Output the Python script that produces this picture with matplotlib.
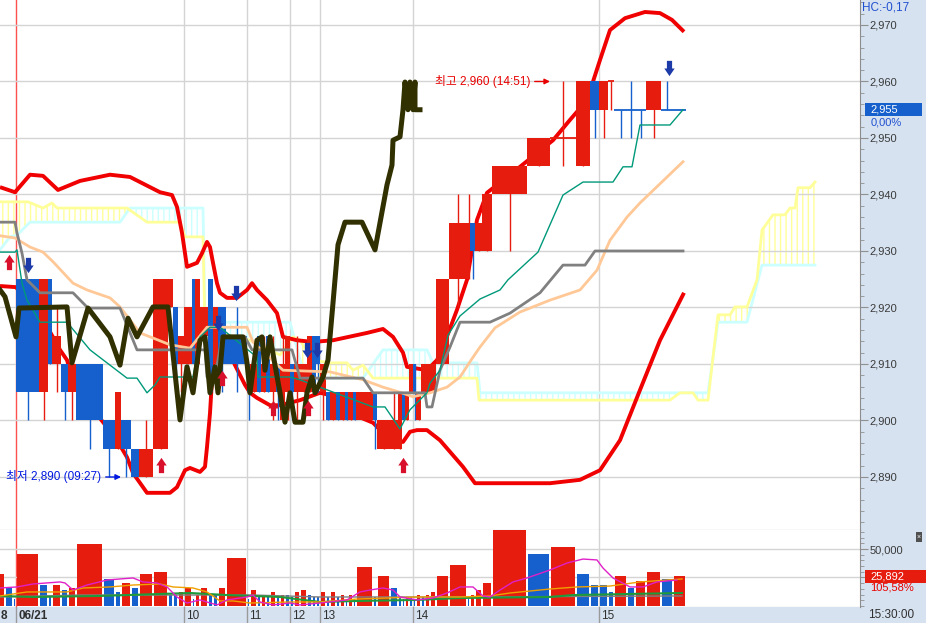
import numpy as np
import matplotlib
matplotlib.use('Agg')
import matplotlib.pyplot as plt
import matplotlib.colors as mcolors
import matplotlib.transforms as mtransforms
from matplotlib.path import Path
from matplotlib.patches import Rectangle
from matplotlib.ticker import MultipleLocator, FuncFormatter

plt.rcParams['font.family'] = ['Liberation Sans', 'Noto Sans CJK KR', 'DejaVu Sans']

# --- candle data (candlevolume: width = traded volume, thousand shares) ---
# first three candles belong to the previous session (06/18), prices off screen
volume = [28, 16, 6,
          46, 18, 8, 18, 14, 16, 54, 24, 12, 20, 16, 28, 30,
          10, 10, 12, 16, 6, 10, 16, 10, 10, 16,
          42,
          6, 14, 8, 10, 8, 12, 8, 10, 10, 8, 12, 14, 10, 8, 8,
          12, 8, 12, 8, 10, 6, 10, 6, 34, 8, 26, 16, 8, 6, 8, 8, 6, 10, 8, 10, 12,
          26, 36, 6, 10, 14, 20,
          70, 46, 52, 28, 18, 18, 12, 26, 16, 22, 30, 24, 25.892]
nan = np.nan
opens = [nan, nan, nan,
         2925, 2905, 2925, 2910, 2910, 2905, 2910, 2900, 2895, 2900, 2895, 2890, 2895,
         2920, 2920, 2910, 2910, 2925, 2910, 2915, 2925, 2910, 2920,
         2915,
         2910, 2905, 2915, 2905, 2915, 2905, 2910, 2900, 2905, 2910, 2905, 2905, 2905, 2915, 2915,
         2905, 2905, 2900, 2905, 2900, 2905, 2900, 2905, 2900, 2905, 2895, 2895, 2895, 2905, 2900,
         2905, 2910, 2900, 2905, 2905, 2905,
         2910, 2925, 2925, 2935, 2930, 2930,
         2940, 2945, 2950, 2945, 2960, 2955, 2960, 2955, 2955, 2955, 2955, 2955, 2955]
highs = [nan, nan, nan,
         2925, 2925, 2925, 2920, 2910, 2910, 2910, 2900, 2905, 2900, 2895, 2900, 2925,
         2925, 2920, 2915, 2920, 2925, 2925, 2920, 2925, 2920, 2920,
         2920,
         2910, 2910, 2915, 2915, 2915, 2915, 2910, 2915, 2915, 2910, 2915, 2910, 2915, 2915, 2915,
         2910, 2905, 2905, 2905, 2905, 2905, 2905, 2905, 2905, 2905, 2900, 2905, 2905, 2905, 2905,
         2910, 2910, 2905, 2910, 2910, 2910,
         2925, 2940, 2940, 2935, 2935, 2940,
         2945, 2950, 2960, 2960, 2960, 2960, 2960, 2955, 2960, 2955, 2960, 2960, 2955]
lows = [nan, nan, nan,
        2900, 2900, 2910, 2905, 2900, 2900, 2895, 2890, 2895, 2890, 2890, 2890, 2895,
        2920, 2905, 2905, 2910, 2910, 2910, 2915, 2905, 2910, 2905,
        2905,
        2900, 2905, 2905, 2905, 2905, 2900, 2900, 2900, 2900, 2900, 2900, 2905, 2905, 2905, 2905,
        2900, 2900, 2900, 2900, 2900, 2900, 2900, 2900, 2900, 2895, 2895, 2895, 2895, 2900, 2900,
        2905, 2900, 2900, 2905, 2905, 2905,
        2910, 2920, 2925, 2925, 2930, 2930,
        2930, 2945, 2945, 2945, 2950, 2950, 2955, 2950, 2950, 2950, 2950, 2955, 2955]
closes = [nan, nan, nan,
          2905, 2925, 2910, 2915, 2905, 2910, 2900, 2895, 2905, 2895, 2890, 2895, 2925,
          2925, 2910, 2915, 2920, 2910, 2925, 2920, 2905, 2920, 2910,
          2910,
          2905, 2910, 2905, 2910, 2905, 2910, 2905, 2910, 2915, 2905, 2910, 2910, 2915, 2905, 2910,
          2910, 2900, 2905, 2900, 2905, 2900, 2905, 2900, 2905, 2900, 2900, 2900, 2905, 2900, 2905,
          2910, 2905, 2905, 2910, 2910, 2910,
          2925, 2935, 2935, 2930, 2935, 2940,
          2945, 2950, 2950, 2960, 2955, 2960, 2960, 2955, 2955, 2955, 2960, 2955, 2955]
# candle colour: u = red (up), d = blue (down)
rising = ('udd' + 'dudududdudduu' + 'uduuduudud' + 'd' + 'dudududuuduuudd'
          + 'udududududuuuduuduuuu' + 'uuuduu' + 'uuuuduudddudd')

hour_labels = ['06/21', '10', '11', '12', '13', '14', '15']
hour_start = [3, 19, 27, 36, 42, 58, 74]
high_idx, low_idx = 71, 12

# --- indicator lines (x = cumulative volume from the 06/21 open) ---
bb_up_x = [-32, -2, 28, 54, 84, 128, 188, 228, 288, 312, 322, 332, 342, 362, 372, 382, 388, 394, 402,
           408, 422, 442, 462, 472, 482, 502, 522, 534, 562, 594, 634, 702, 734, 754, 774, 782, 822,
           842, 854, 882, 902, 922, 942, 1008, 1074, 1108, 1142, 1168, 1188, 1218, 1258, 1288, 1312, 1336]
bb_up = [2941.3, 2940.4, 2943.5, 2943.3, 2940.8, 2942.4, 2943.5, 2943.1, 2940.4, 2939.9, 2937.8, 2933.2,
         2927.2, 2927.9, 2929.6, 2931.6, 2930.7, 2927.9, 2924.3, 2922.6, 2921.7, 2921.7, 2923.1, 2924.3,
         2923.1, 2921.3, 2919.0, 2914.8, 2914.2, 2913.9, 2914.2, 2915.5, 2916.2, 2914.8, 2912.0, 2909.5,
         2908.9, 2910.7, 2913.0, 2919.6, 2924.9, 2935.5, 2940.3, 2944.9, 2949.6, 2953.2, 2956.7, 2963.8,
         2969.1, 2971.2, 2972.3, 2972.1, 2970.9, 2968.8]
bb_low_x = [-32, 0, 68, 88, 102, 118, 168, 202, 222, 234, 262, 308, 322, 338, 348, 368, 378, 382, 388,
            392, 398, 412, 438, 458, 468, 482, 508, 528, 568, 608, 628, 668, 714, 742, 762, 774, 788,
            802, 822, 848, 894, 918, 968, 1068, 1128, 1168, 1208, 1248, 1288, 1336]
bb_low = [2923.8, 2923.6, 2915.7, 2912.5, 2910.7, 2905.9, 2900.4, 2896.5, 2893.5, 2890.7, 2887.2, 2887.2,
          2888.2, 2891.2, 2891.6, 2890.9, 2891.8, 2895.3, 2901.3, 2907.2, 2914.2, 2915.1, 2909.8, 2906.3,
          2904.9, 2904.0, 2902.7, 2902.7, 2903.6, 2904.9, 2904.5, 2901.3, 2899.6, 2897.1, 2896.5, 2896.2,
          2898.0, 2898.3, 2898.3, 2896.5, 2891.8, 2888.9, 2888.9, 2888.9, 2889.5, 2891.2, 2896.5, 2905.4,
          2914.2, 2922.6]
lag_x = [-32, -22, 0, 6, 102, 112, 144, 188, 208, 224, 242, 274, 304, 328, 342, 354, 368, 378, 388, 398,
         404, 414, 454, 462, 468, 482, 492, 498, 508, 518, 528, 538, 548, 558, 574, 582, 592, 598, 614,
         624, 634, 644, 658, 692, 718, 742, 752, 754, 768, 774, 778, 784, 788, 794, 798, 798, 808]
lag = [2923.1, 2921.9, 2914.8, 2919.9, 2920.1, 2910.2, 2919.9, 2914.8, 2909.8, 2918.1, 2914.8, 2920.1,
       2920.1, 2900.1, 2909.5, 2904.9, 2914.2, 2914.8, 2904.9, 2909.5, 2904.9, 2914.8, 2914.8, 2910.2,
       2904.9, 2914.2, 2914.8, 2908.9, 2914.8, 2909.8, 2904.9, 2899.7, 2904.9, 2899.7, 2899.7, 2904.9,
       2907.7, 2904.9, 2907.7, 2910.7, 2920.8, 2931.1, 2935.1, 2935.1, 2930.2, 2941.7, 2945.2, 2949.6,
       2950.2, 2955.0, 2959.9, 2955.0, 2959.9, 2955.0, 2959.9, 2955.0, 2955.0]
base_x = [-32, -2, 2, 12, 22, 48, 114, 144, 208, 242, 378, 382, 398, 412, 458, 472, 552, 568, 694, 714,
          818, 822, 832, 848, 868, 888, 948, 988, 1048, 1094, 1138, 1158, 1334]
base = [2935.1, 2935.1, 2933.2, 2929.6, 2924.9, 2922.6, 2922.6, 2919.9, 2919.9, 2912.5, 2912.5, 2907.7,
        2907.7, 2914.8, 2914.8, 2912.5, 2912.5, 2907.5, 2907.5, 2904.9, 2904.9, 2902.4, 2902.4, 2908.9,
        2913.0, 2917.4, 2917.4, 2919.0, 2922.6, 2927.5, 2927.5, 2930.0, 2930.0]
conv_x = [-32, -2, 2, 12, 22, 48, 102, 148, 222, 242, 262, 278, 288, 354, 368, 388, 408, 482, 484, 548,
          568, 714, 738, 768, 788, 822, 828, 848, 864, 888, 928, 968, 984, 1044, 1094, 1134, 1194, 1214,
          1232, 1248, 1308, 1334]
conv = [2929.8, 2929.8, 2930.2, 2924.3, 2921.3, 2917.4, 2917.4, 2912.5, 2907.5, 2907.5, 2904.9, 2906.3,
        2907.7, 2907.7, 2914.8, 2916.5, 2916.5, 2911.2, 2907.7, 2907.7, 2907.2, 2902.4, 2902.4, 2898.5,
        2901.9, 2904.9, 2906.6, 2908.9, 2915.1, 2918.5, 2921.5, 2923.1, 2924.9, 2929.8, 2939.9, 2942.2,
        2942.2, 2944.9, 2944.9, 2952.3, 2952.3, 2955.0]
ma_x = [-32, -2, 28, 54, 74, 114, 142, 188, 208, 248, 274, 308, 348, 382, 402, 462, 474, 534, 628, 694,
        734, 768, 794, 828, 862, 888, 914, 928, 958, 1008, 1068, 1128, 1162, 1188, 1222, 1248, 1334]
ma = [2932.7, 2932.3, 2930.7, 2929.8, 2928.1, 2924.3, 2923.1, 2921.7, 2920.1, 2915.5, 2914.6, 2913.4,
      2912.8, 2916.5, 2916.5, 2916.5, 2913.9, 2908.9, 2908.6, 2907.2, 2905.9, 2905.0, 2904.2, 2904.9,
      2905.9, 2907.7, 2911.2, 2913.0, 2916.4, 2919.2, 2921.3, 2923.1, 2926.6, 2931.9, 2936.0, 2938.5,
      2945.8]
span_a_x = [-32, 24, 54, 72, 82, 222, 262, 328, 338, 374, 378, 468, 528, 554, 568, 594, 628, 662, 674,
            694, 714, 922, 926, 1308, 1328, 1354, 1364, 1384, 1404, 1428, 1438, 1462, 1482, 1492, 1514,
            1538, 1548, 1558, 1564, 1588, 1598]
span_a = [2938.7, 2938.7, 2937.6, 2938.5, 2937.6, 2937.6, 2935.1, 2935.1, 2932.5, 2932.5, 2916.0, 2914.2,
          2911.6, 2914.8, 2914.2, 2910.7, 2910.2, 2910.2, 2908.9, 2909.8, 2907.5, 2907.5, 2903.6, 2903.6,
          2904.9, 2904.9, 2903.6, 2903.6, 2918.7, 2918.7, 2920.1, 2920.1, 2924.9, 2933.7, 2936.4, 2936.4,
          2937.6, 2937.6, 2941.2, 2941.2, 2942.2]
span_b_x = [-32, -12, 2, 28, 208, 228, 374, 378, 548, 578, 694, 734, 822, 834, 922, 928, 1384, 1404,
            1462, 1492, 1598]
span_b = [2930.2, 2932.5, 2932.8, 2935.1, 2935.1, 2937.6, 2937.6, 2917.4, 2917.4, 2907.5, 2907.5, 2912.5,
          2912.5, 2910.2, 2910.2, 2904.9, 2904.9, 2917.4, 2917.4, 2927.5, 2927.5]

buy_x = [-14, 290, 412, 514, 584, 774]
buy_price = [2928.1, 2892.1, 2907.5, 2902.2, 2902.2, 2892.1]
sell_x = [24, 404, 440, 582, 602, 1306]
sell_price = [2927.5, 2917.3, 2922.6, 2912.5, 2912.5, 2962.4]

# volume moving averages (thousand shares)
vma5_x = [-32, 2, 34, 88, 98, 114, 142, 182, 234, 254, 282, 302, 322, 342, 368, 402, 422, 462, 474, 488,
          514, 548, 568, 608, 662, 688, 708, 734, 754, 768, 802, 834, 862, 888, 914, 934, 948, 968, 994,
          1022, 1068, 1102, 1134, 1162, 1174, 1194, 1228, 1254, 1282, 1322]
vma5 = [15.8, 16.7, 19.3, 21.1, 20.2, 14.0, 18.4, 22.8, 24.6, 21.1, 20.2, 16.7, 7.9, 2.6, 5.3, 0.9, 5.3,
        7.9, 9.6, 3.5, 0.9, 2.6, 0.9, 2.6, 5.3, 12.3, 14.0, 15.8, 14.0, 7.9, 5.3, 7.0, 11.4, 16.7, 16.7,
        8.8, 7.9, 14.0, 21.1, 24.6, 31.6, 37.7, 41.2, 40.4, 33.3, 24.6, 16.7, 16.7, 21.1, 22.8]
vma20_x = [-32, 22, 102, 134, 188, 234, 288, 314, 354, 382, 408, 434, 468, 548, 608, 682, 802, 888, 948,
           988, 1068, 1122, 1188, 1248, 1332]
vma20 = [8.8, 12.3, 12.3, 15.8, 16.7, 18.4, 19.3, 16.7, 15.8, 12.3, 4.4, 4.4, 2.6, 3.5, 3.5, 6.1, 7.9,
         7.9, 8.8, 11.4, 14.9, 16.7, 17.5, 21.1, 23.7]
vma60_x = [-32, 34, 168, 348, 422, 528, 608, 682, 802, 888, 1068, 1114, 1332]
vma60 = [8.8, 7.9, 8.8, 11.4, 9.6, 7.9, 3.5, 4.4, 5.3, 7.0, 7.9, 9.6, 11.4]
vma120_x = [-32, 128, 474, 608, 888, 1332]
vma120 = [7.9, 9.6, 9.6, 7.9, 7.9, 8.8]

RED = '#e61c0e'
BLUE = '#1560cc'
PANEL = '#d6e2f0'
GRID = '#d4d4d4'
W, H = 926, 623

vol = np.array(volume, float)
left = np.concatenate([[0.0], np.cumsum(vol)[:-1]]) - vol[:3].sum()
mid = left + vol / 2
XLIM = (-32, 1688)

fig = plt.figure(figsize=(W / 100, H / 100), dpi=100, facecolor=PANEL)
ax = fig.add_axes([0, 93 / H, 860 / W, 530 / H])
axv = fig.add_axes([0, 16 / H, 860 / W, 77 / H])
axt = fig.add_axes([0, 0, 860 / W, 16 / H])

# --- price panel ---
ax.set_facecolor('white')
ax.set_xlim(*XLIM)
ax.set_ylim(2880.62, 2974.42)
ax.set_yticks(range(2890, 2971, 10))
ax.yaxis.set_minor_locator(MultipleLocator(2))
ax.yaxis.tick_right()
ax.yaxis.set_major_formatter(FuncFormatter(lambda v, p: f'{v:,.0f}'))
ax.tick_params(axis='y', which='major', length=6, color='#909090', labelsize=8,
               labelcolor='#3a3a3a', pad=1)
ax.tick_params(axis='y', which='minor', length=3, color='#909090')
ax.set_xticks([])
ax.grid(axis='y', color=GRID, lw=1, zorder=0)
for s in ('top', 'left'):
    ax.spines[s].set_visible(False)
for s in ('right', 'bottom'):
    ax.spines[s].set_color('#8c8c8c')
for idx in hour_start[1:]:
    ax.axvline(left[idx], color=GRID, lw=1, zorder=0)
ax.axvline(0, color='#ff5050', lw=1, zorder=0.5)

# ichimoku cloud with vertical hatching
cx = np.union1d(span_a_x, span_b_x)
ya = np.interp(cx, span_a_x, span_a)
yb = np.interp(cx, span_b_x, span_b)
for cond, c in ((ya >= yb, '#ffff9a'), (yb > ya, '#ccffff')):
    poly = ax.fill_between(cx, ya, yb, where=cond, interpolate=True, facecolor='none',
                           edgecolor=c, hatch='|||', linewidth=0, zorder=1)
    if hasattr(poly, 'set_hatchcolor'):
        poly.set_hatchcolor(c)
    else:
        poly._hatch_color = mcolors.to_rgba(c)
ax.plot(span_b_x, span_b, color='#ccffff', lw=2, zorder=1.5)
ax.plot(span_a_x, span_a, color='#ffff9a', lw=2, zorder=1.6)

# bollinger bands sit behind the candles
ax.plot(bb_up_x, bb_up, color='#f00000', lw=2.8, zorder=3, solid_capstyle='butt')
ax.plot(bb_low_x, bb_low, color='#f00000', lw=2.8, zorder=3, solid_capstyle='butt')

# candles
for i in range(len(vol)):
    if np.isnan(opens[i]):
        continue
    col = RED if rising[i] == 'u' else BLUE
    ax.vlines(mid[i], lows[i], highs[i], color=col, lw=1, zorder=4)
    w = max(vol[i] - 1.0, 1.4)
    x0 = mid[i] - w / 2
    if opens[i] == closes[i]:
        ax.hlines(opens[i], x0, x0 + w, color=col, lw=1.3, zorder=4)
    else:
        ax.bar(x0, abs(closes[i] - opens[i]), w, bottom=min(opens[i], closes[i]),
               align='edge', color=col, lw=0, zorder=4)

ax.plot(ma_x, ma, color='#ffc896', lw=2, zorder=5)
ax.plot(base_x, base, color='#808080', lw=2, zorder=5)
ax.plot(conv_x, conv, color='#00997a', lw=1, zorder=5)
ax.plot(lag_x, lag, color='#303000', lw=3.6, zorder=7)

# buy / sell signal arrows
up_arrow = Path([(-0.17, -0.5), (0.17, -0.5), (0.17, 0.0), (0.34, 0.0), (0.0, 0.5),
                 (-0.34, 0.0), (-0.17, 0.0), (-0.17, -0.5)], closed=True)
down_arrow = Path([(-0.17, 0.5), (0.17, 0.5), (0.17, 0.0), (0.34, 0.0), (0.0, -0.5),
                   (-0.34, 0.0), (-0.17, 0.0), (-0.17, 0.5)], closed=True)
ax.plot(buy_x, buy_price, ls='none', marker=up_arrow, ms=11, color='#d8102c', mew=0, zorder=8)
ax.plot(sell_x, sell_price, ls='none', marker=down_arrow, ms=11, color='#1c3aa8', mew=0, zorder=8)

ax.annotate(f'최고 {highs[high_idx]:,.0f} (14:51)', xy=(left[high_idx], highs[high_idx]),
            xytext=(-14, 0), textcoords='offset points', ha='right', va='center',
            fontsize=8.5, color='#e80000', zorder=9,
            arrowprops=dict(arrowstyle='-|>', color='#e80000', lw=1, mutation_scale=8,
                            shrinkA=1, shrinkB=0))
ax.annotate(f'최저 {lows[low_idx]:,.0f} (09:27)', xy=(left[low_idx], lows[low_idx]),
            xytext=(-14, 0), textcoords='offset points', ha='right', va='center',
            fontsize=8.5, color='#0018e0', zorder=9,
            arrowprops=dict(arrowstyle='-|>', color='#0018e0', lw=1, mutation_scale=8,
                            shrinkA=1, shrinkB=0))

# current price tag on the right scale
tr = mtransforms.blended_transform_factory(ax.transAxes, ax.transData)
last = closes[-1]
ax.add_patch(Rectangle((1.006, last - 1.15), 0.066, 2.3, transform=tr, fc=BLUE, ec='none',
                       clip_on=False, zorder=10))
ax.text(1.012, last, f'{last:,.0f}', transform=tr, color='white', fontsize=8, va='center',
        ha='left', clip_on=False, zorder=11)
ax.text(1.012, last - 2.2, '0,00%', transform=tr, color='#1f50d0', fontsize=8, va='center',
        ha='left', clip_on=False)

# --- volume panel ---
vcol = [RED if i == 0 or vol[i] > vol[i - 1] else BLUE for i in range(len(vol))]
axv.set_facecolor('white')
axv.bar(mid, vol, width=np.maximum(vol - 3, 1.5), color=vcol, lw=0, zorder=2)
axv.plot(vma120_x, vma120, color='#808080', lw=1, zorder=3)
axv.plot(vma60_x, vma60, color='#1f9a3a', lw=1.5, zorder=3)
axv.plot(vma20_x, vma20, color='#f0a000', lw=1, zorder=3)
axv.plot(vma5_x, vma5, color='#e020c8', lw=1, zorder=3)
axv.set_xlim(*XLIM)
axv.set_ylim(-0.9, 66.7)
axv.set_xticks([])
axv.set_yticks([25, 50])
axv.yaxis.set_minor_locator(MultipleLocator(5))
axv.yaxis.tick_right()
axv.yaxis.set_major_formatter(FuncFormatter(lambda v, p: f'{v * 1000:,.0f}' if v == 50 else ''))
axv.tick_params(axis='y', which='major', length=6, color='#909090', labelsize=8,
                labelcolor='#3a3a3a', pad=1)
axv.tick_params(axis='y', which='minor', length=3, color='#909090')
axv.grid(axis='y', color=GRID, lw=1, zorder=0)
for s in ('top', 'left'):
    axv.spines[s].set_visible(False)
for s in ('right', 'bottom'):
    axv.spines[s].set_color('#8c8c8c')
for idx in hour_start[1:]:
    axv.axvline(left[idx], color=GRID, lw=1, zorder=0)
axv.axvline(0, color='#ff5050', lw=1, zorder=1)

trv = mtransforms.blended_transform_factory(axv.transAxes, axv.transData)
lv = vol[-1]
axv.add_patch(Rectangle((1.006, lv - 5.7), 0.072, 11.4, transform=trv, fc=RED, ec='none',
                        clip_on=False, zorder=10))
axv.text(1.012, lv, f'{lv * 1000:,.0f}', transform=trv, color='white', fontsize=8, va='center',
         ha='left', clip_on=False, zorder=11)
axv.text(1.012, lv - 10, '105,58%', transform=trv, color='#e80000', fontsize=8, va='center',
         ha='left', clip_on=False)

# --- time strip ---
axt.set_facecolor(PANEL)
axt.set_xlim(*XLIM)
axt.set_ylim(0, 1)
axt.set_xticks([])
axt.set_yticks([])
for s in axt.spines.values():
    s.set_visible(False)
axt.text(-31, 0.45, '8', ha='left', va='center', fontsize=8.5, fontweight='bold',
         color='#303030')
for idx, lab in zip(hour_start, hour_labels):
    axt.axvline(left[idx], color='#9a9a9a', lw=1)
    axt.text(left[idx] + 5, 0.45, lab, ha='left', va='center', fontsize=8.5, color='#303030',
             fontweight='bold' if '/' in lab else 'normal', clip_on=True)

fig.text(862 / W, 1 - 1 / H, 'HC:-0,17', ha='left', va='top', fontsize=8.5, color='#1f50d0')
fig.text(868 / W, 8 / H, '15:30:00', ha='left', va='center', fontsize=8.5, color='#303030')
fig.text(919 / W, 1 - 537 / H, '×', ha='center', va='center', fontsize=5, color='white',
         bbox=dict(boxstyle='square,pad=0.15', fc='#505050', ec='none'))

fig.savefig('out.png', dpi=100, facecolor=PANEL)
